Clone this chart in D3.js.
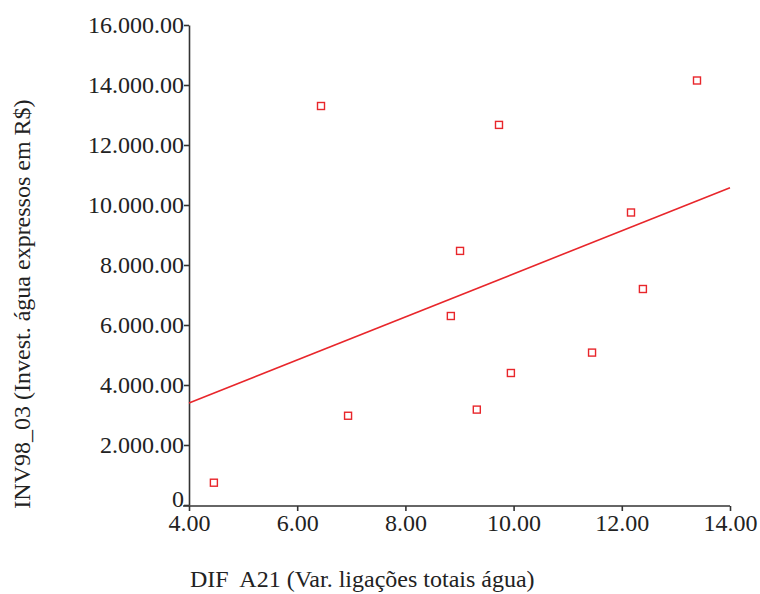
<!DOCTYPE html>
<html>
<head>
<meta charset="utf-8">
<script src="https://cdn.jsdelivr.net/npm/d3@7"></script>
<style>
  html, body { margin: 0; padding: 0; background: #fff; }
  svg { display: block; }
  .axis text { font-family: "Liberation Serif", "Times New Roman", serif; font-size: 24px; fill: #222; }
  .axis path, .axis line { stroke: #333; stroke-width: 1.6; }
  .title { font-family: "Liberation Serif", "Times New Roman", serif; font-size: 24px; fill: #222; white-space: pre; }
</style>
</head>
<body>
<svg id="chart" width="760" height="594"></svg>
<script>
// Observations: variation in total water connections vs. water investment (R$)
const difA21 = [4.46, 6.44, 6.94, 8.84, 9.01, 9.32, 9.73, 9.95, 11.45, 12.17, 12.39, 13.39];
const inv9803 = [743, 13300, 2975, 6300, 8470, 3180, 12670, 4400, 5080, 9750, 7200, 14150];

const xTicks = [4, 6, 8, 10, 12, 14];
const yTicks = [0, 2000, 4000, 6000, 8000, 10000, 12000, 14000, 16000];

const xTitle = "DIF  A21 (Var. ligações totais água)";
const yTitle = "INV98_03 (Invest. água expressos em R$)";

const svg = d3.select("#chart");
const plotLeft = 189, plotRight = 730, plotTop = 25, plotBottom = 505;

const x = d3.scaleLinear().domain([4, 14]).range([plotLeft, plotRight]);
const y = d3.scaleLinear().domain([0, 16000]).range([plotBottom, plotTop]);

// number format with dots as separators: 16.000.00
const fmtY = v => v === 0 ? "0" : d3.format(",.2f")(v).replace(/,/g, ".");
const fmtX = v => d3.format(".2f")(v);

// x axis
const gx = svg.append("g").attr("class", "axis")
  .attr("transform", `translate(0,${plotBottom + 1})`)
  .call(d3.axisBottom(x).tickValues(xTicks).tickFormat(fmtX).tickSize(5).tickSizeOuter(0).tickPadding(3));
gx.select(".domain").attr("d", `M${plotLeft - 6},0H${plotRight}`);

// y axis
const gy = svg.append("g").attr("class", "axis")
  .attr("transform", `translate(${plotLeft},0)`)
  .call(d3.axisLeft(y).tickValues(yTicks).tickFormat(fmtY).tickSize(5).tickSizeOuter(0).tickPadding(0));
gy.selectAll(".tick text").attr("dy", "0.32em");
gy.selectAll(".tick").filter(d => d === 0).select("text").attr("dy", "0.05em");

// least-squares regression line
const mx = d3.mean(difA21), my = d3.mean(inv9803);
const sxy = d3.sum(difA21, (v, i) => (v - mx) * (inv9803[i] - my));
const sxx = d3.sum(difA21, v => (v - mx) * (v - mx));
const slope = sxy / sxx, intercept = my - slope * mx;
svg.append("line")
  .attr("x1", x(4)).attr("y1", y(intercept + slope * 4))
  .attr("x2", x(14)).attr("y2", y(intercept + slope * 14))
  .attr("stroke", "#e8262b").attr("stroke-width", 1.6);

// square markers
const s = 7;
svg.append("g").selectAll("rect")
  .data(difA21.map((v, i) => [v, inv9803[i]]))
  .join("rect")
  .attr("x", d => x(d[0]) - s / 2)
  .attr("y", d => y(d[1]) - s / 2)
  .attr("width", s).attr("height", s)
  .attr("fill", "#fff")
  .attr("stroke", "#e8262b").attr("stroke-width", 1.4);

// axis titles
svg.append("text").attr("class", "title")
  .attr("x", 190).attr("y", 587)
  .text(xTitle);

svg.append("text").attr("class", "title")
  .attr("transform", `translate(30,304) rotate(-90)`)
  .attr("text-anchor", "middle")
  .text(yTitle);
</script>
</body>
</html>
